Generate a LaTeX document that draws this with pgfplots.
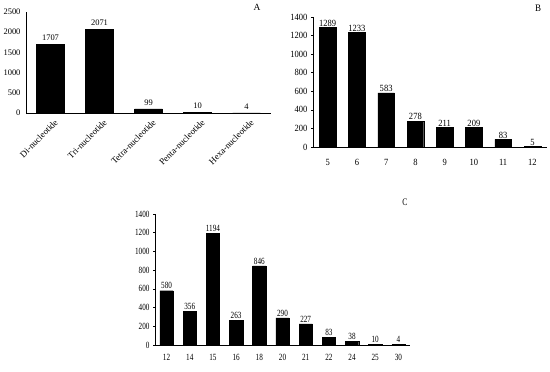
\documentclass[border=0pt]{standalone}
\usepackage{fontspec}
\setmainfont{Liberation Serif}
\newfontfamily\fA{Liberation Serif}
\newfontfamily\fB[FakeStretch=0.9]{Liberation Serif}
\newfontfamily\fC[FakeStretch=0.76]{Liberation Serif}
\usepackage{pgfplots}
\pgfplotsset{compat=1.18}
\pgfplotsset{
  panel/.style={
    scale only axis, ybar, ymin=0,
    axis x line*=bottom, axis y line*=left,
    axis line style={line width=0.6pt, black},
    xtick=data, x tick style={draw=none},
    y tick style={black, line width=0.5pt},
    tick align=outside, major tick length=2bp,
    /pgf/number format/assume math mode=true,
    /pgf/number format/1000 sep={},
    nodes near coords,
    clip=false,
  }
}
\begin{document}
\begin{tikzpicture}[x=1bp,y=1bp]
\useasboundingbox (0,0) rectangle (550,371);
% Panel A
\begin{axis}[panel, at={(26bp,258bp)}, anchor=south west,
  width=245bp, height=101bp, ymax=2500, xmin=-0.5, xmax=4.5,
  ytick={0,500,1000,1500,2000,2500},
  y tick style={draw=none},
  bar width=27.7bp,
  xticklabels={Di-nucleotide,Tri-nucleotide,Tetra-nucleotide,Penta-nucleotide,Hexa-nucleotide},
  xticklabel style={rotate=45, anchor=north east, font=\fA\fontsize{9}{10}\selectfont, inner sep=1bp, yshift=-4bp, xshift=1bp},
  yticklabel style={font=\fA\fontsize{8.5}{9}\selectfont},
  every node near coord/.append style={font=\fA\fontsize{8.5}{9}\selectfont, black},
]
\addplot[fill=black, draw=black] coordinates {(0,1707) (1,2071) (2,99) (3,10) (4,4)};
\end{axis}
\node[font=\fA\fontsize{9.5}{10}\selectfont] at (257,364) {A};
% Panel B
\begin{axis}[panel, at={(313bp,224bp)}, anchor=south west,
  width=234bp, height=130bp, ymax=1400, xmin=-0.5, xmax=7.5,
  ytick={0,200,...,1400},
  bar width=16.7bp,
  xticklabels={5,6,7,8,9,10,11,12},
  xticklabel style={font=\fB\fontsize{9.5}{10}\selectfont, yshift=-7bp},
  yticklabel style={font=\fB\fontsize{9.5}{10}\selectfont},
  every node near coord/.append style={font=\fB\fontsize{9.5}{10}\selectfont, black, inner sep=1bp},
]
\addplot[fill=black, draw=black] coordinates {(0,1289) (1,1233) (2,583) (3,278) (4,211) (5,209) (6,83) (7,5)};
\end{axis}
\node[font=\fB\fontsize{10}{10}\selectfont] at (538,363) {B};
% Panel C
\begin{axis}[panel, at={(155bp,26bp)}, anchor=south west,
  width=255bp, height=131bp, ymax=1400, xmin=-0.5, xmax=10.5,
  ytick={0,200,...,1400},
  bar width=13.3bp,
  xticklabels={12,14,15,16,18,20,21,22,24,25,30},
  xticklabel style={font=\fC\fontsize{9.5}{10}\selectfont, yshift=-4bp},
  yticklabel style={font=\fC\fontsize{9.5}{10}\selectfont},
  every node near coord/.append style={font=\fC\fontsize{9.5}{10}\selectfont, black, inner sep=1.5bp},
]
\addplot[fill=black, draw=black] coordinates {(0,580) (1,356) (2,1194) (3,263) (4,846) (5,290) (6,227) (7,83) (8,38) (9,10) (10,4)};
\end{axis}
\node[font=\fC\fontsize{10}{10}\selectfont] at (405,169) {C};
\end{tikzpicture}
\end{document}
